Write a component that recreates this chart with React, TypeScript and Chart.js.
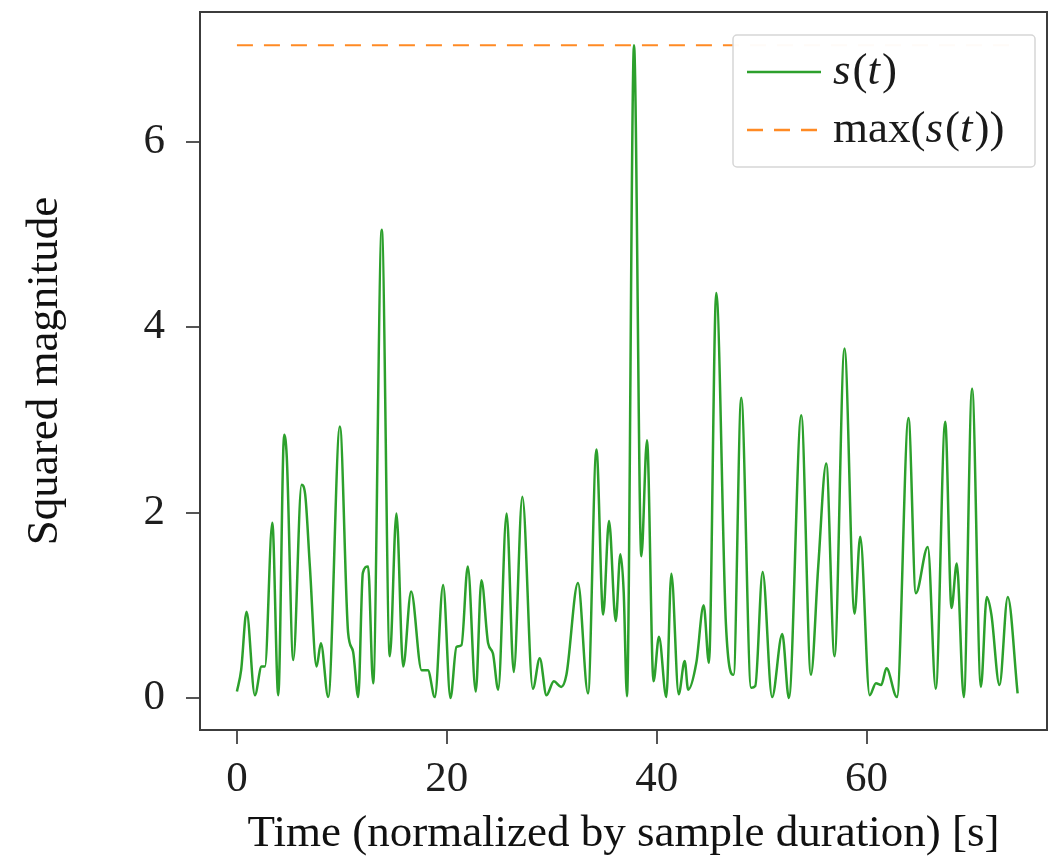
import React, { useEffect, useRef } from "react";
import { Chart, registerables } from "chart.js";

Chart.register(...registerables);

// ---- data ----
const timeValues = [
  0, 0.4, 0.92, 1.71, 2.35, 2.67, 3.37, 3.94, 4.5, 4.75, 5.37, 6.16, 6.5, 6.95, 7.59, 8.0, 8.7,
  9.81, 10.6, 11.07, 11.56, 12.0, 12.5, 12.98, 13.8, 14.57, 15.2, 15.84, 16.6, 17.6, 18.2, 18.86,
  19.65, 20.35, 20.92, 21.4, 22.0, 22.76, 23.3, 23.94, 24.4, 24.9, 25.7, 26.38, 27.2, 28.2,
  28.86, 29.5, 30.2, 30.9, 31.4, 32.5, 33.46, 34.26, 34.9, 35.46, 36.1, 36.54, 36.86, 37.17,
  37.84, 38.54, 39.08, 39.7, 40.22, 40.92, 41.4, 42.1, 42.67, 43.0, 43.78, 44.48, 44.98, 45.68,
  46.6, 47.33, 48.06, 49.0, 49.4, 50.1, 51.0, 51.97, 52.6, 53.78, 54.7, 55.4, 56.16, 56.95,
  57.9, 58.86, 59.4, 60.3, 60.9, 61.4, 61.9, 62.9, 64.0, 64.7, 65.84, 66.6, 67.5, 68.1, 68.6,
  69.27, 70.06, 70.9, 71.46, 71.9, 72.67, 73.46, 74.4,
];
const magnitudeValues = [
  0.07, 0.3, 0.93, 0.03, 0.34, 0.34, 1.89, 0.03, 2.84, 2.6, 0.41, 2.3, 2.2, 1.42, 0.34, 0.59, 0.01,
  2.93, 0.7, 0.5, 0.01, 1.35, 1.42, 0.16, 5.05, 0.45, 1.99, 0.34, 1.15, 0.3, 0.3, 0.01,
  1.22, 0.0, 0.55, 0.57, 1.42, 0.07, 1.27, 0.59, 0.48, 0.09, 1.99, 0.28, 2.17, 0.1,
  0.43, 0.03, 0.18, 0.12, 0.25, 1.24, 0.05, 2.68, 0.9, 1.91, 0.83, 1.55, 1.14, 0.02,
  7.04, 1.53, 2.78, 0.18, 0.66, 0.01, 1.34, 0.04, 0.4, 0.09, 0.38, 1.0, 0.38, 4.37,
  0.8, 0.25, 3.24, 0.11, 0.13, 1.36, 0.01, 0.69, 0.0, 3.05, 0.25, 1.42, 2.53, 0.45,
  3.77, 0.91, 1.74, 0.03, 0.16, 0.14, 0.32, 0.01, 3.02, 1.13, 1.63, 0.1, 2.98, 0.97, 1.45,
  0.01, 3.34, 0.12, 1.09, 0.9, 0.14, 1.09, 0.05,
];
const xTicks = [0, 20, 40, 60];
const yTicks = [0, 2, 4, 6];
const xAxisTitle = "Time (normalized by sample duration) [s]";
const yAxisTitle = "Squared magnitude";
// legend labels as (text, italic) segments
const legendSignal: [string, boolean][] = [["s", true], ["(", false], ["t", true], [")", false]];
const legendMax: [string, boolean][] = [
  ["max(", false], ["s", true], ["(", false], ["t", true], ["))", false],
];

const GREEN = "#2ca02c";
const ORANGE = "#ff8a24";
const SERIF = '"Liberation Serif", "DejaVu Serif", serif';

const maxValue = Math.max(...magnitudeValues);

const framePlugin = {
  id: "frameAndLegend",
  afterDatasetsDraw(chart: any) {
    const { ctx, chartArea } = chart;
    ctx.save();
    // axes frame
    ctx.strokeStyle = "#3c3c3c";
    ctx.lineWidth = 2;
    ctx.strokeRect(chartArea.left, chartArea.top, chartArea.right - chartArea.left, chartArea.bottom - chartArea.top);

    // inset legend
    const w = 302;
    const h = 132;
    const x0 = chartArea.right - w - 12;
    const y0 = chartArea.top + 23;
    ctx.beginPath();
    if (ctx.roundRect) ctx.roundRect(x0, y0, w, h, 4);
    else ctx.rect(x0, y0, w, h);
    ctx.fillStyle = "rgba(255,255,255,0.97)";
    ctx.fill();
    ctx.strokeStyle = "#d6d6d6";
    ctx.lineWidth = 1.5;
    ctx.stroke();

    const rows: { segs: [string, boolean][]; color: string; dash: number[]; y: number }[] = [
      { segs: legendSignal, color: GREEN, dash: [], y: y0 + 37 },
      { segs: legendMax, color: ORANGE, dash: [16, 11], y: y0 + 95 },
    ];
    for (const r of rows) {
      ctx.beginPath();
      ctx.setLineDash(r.dash);
      ctx.strokeStyle = r.color;
      ctx.lineWidth = 2.5;
      ctx.moveTo(x0 + 14, r.y);
      ctx.lineTo(x0 + 88, r.y);
      ctx.stroke();
      ctx.setLineDash([]);
      let tx = x0 + 100;
      ctx.fillStyle = "#1a1a1a";
      ctx.textBaseline = "middle";
      ctx.textAlign = "left";
      for (const [t, it] of r.segs) {
        ctx.font = `${it ? "italic " : ""}45px ${SERIF}`;
        ctx.fillText(t, tx, r.y);
        tx += ctx.measureText(t).width + (it ? 2 : 0);
      }
    }
    ctx.restore();
  },
};

export default function App() {
  const ref = useRef<HTMLCanvasElement | null>(null);

  useEffect(() => {
    if (!ref.current) return;
    const signal = timeValues.map((t, i) => ({ x: t, y: magnitudeValues[i] }));
    const maxLine = [
      { x: timeValues[0], y: maxValue },
      { x: timeValues[timeValues.length - 1], y: maxValue },
    ];
    const chart = new Chart(ref.current, {
      type: "line",
      data: {
        datasets: [
          {
            label: "s(t)",
            data: signal,
            borderColor: GREEN,
            borderWidth: 2.5,
            pointRadius: 0,
            cubicInterpolationMode: "monotone",
            fill: false,
          },
          {
            label: "max(s(t))",
            data: maxLine,
            borderColor: ORANGE,
            borderWidth: 2,
            borderDash: [16, 11],
            pointRadius: 0,
            fill: false,
          },
        ],
      },
      options: {
        animation: false,
        responsive: false,
        layout: { padding: { top: 12, right: 4, left: 0, bottom: 0 } },
        plugins: { legend: { display: false }, tooltip: { enabled: false } },
        scales: {
          x: {
            type: "linear",
            min: -3.52,
            max: 77.2,
            afterFit: (s: any) => {
              s.height = 132;
              s.paddingLeft = 0;
              s.paddingRight = 0;
            },
            afterBuildTicks: (s: any) => {
              s.ticks = xTicks.map((v) => ({ value: v }));
            },
            border: { display: false },
            grid: {
              display: true,
              drawOnChartArea: false,
              drawTicks: true,
              tickLength: 14,
              tickColor: "#555",
              lineWidth: 2,
            },
            ticks: {
              padding: 10,
              color: "#1e1e1e",
              font: { family: SERIF, size: 43 },
              maxRotation: 0,
            },
            title: {
              display: true,
              text: xAxisTitle,
              color: "#111",
              font: { family: SERIF, size: 45 },
              padding: { top: 0, bottom: 1 },
            },
          },
          y: {
            type: "linear",
            min: -0.345,
            max: 7.4,
            afterFit: (s: any) => {
              s.width = 200;
              s.paddingTop = 0;
              s.paddingBottom = 0;
            },
            afterBuildTicks: (s: any) => {
              s.ticks = yTicks.map((v) => ({ value: v }));
            },
            border: { display: false },
            grid: {
              display: true,
              drawOnChartArea: false,
              drawTicks: true,
              tickLength: 14,
              tickColor: "#555",
              lineWidth: 2,
            },
            ticks: {
              padding: 21,
              color: "#1e1e1e",
              font: { family: SERIF, size: 43 },
            },
            title: {
              display: true,
              text: yAxisTitle,
              color: "#111",
              font: { family: SERIF, size: 45 },
              padding: { top: 18, bottom: 0 },
            },
          },
        },
      },
      plugins: [framePlugin],
    });
    return () => chart.destroy();
  }, []);

  return (
    <div style={{ position: "fixed", left: 0, top: 0, width: 1051, height: 862, background: "#fff" }}>
      <canvas ref={ref} width={1051} height={862} style={{ display: "block" }} />
    </div>
  );
}
